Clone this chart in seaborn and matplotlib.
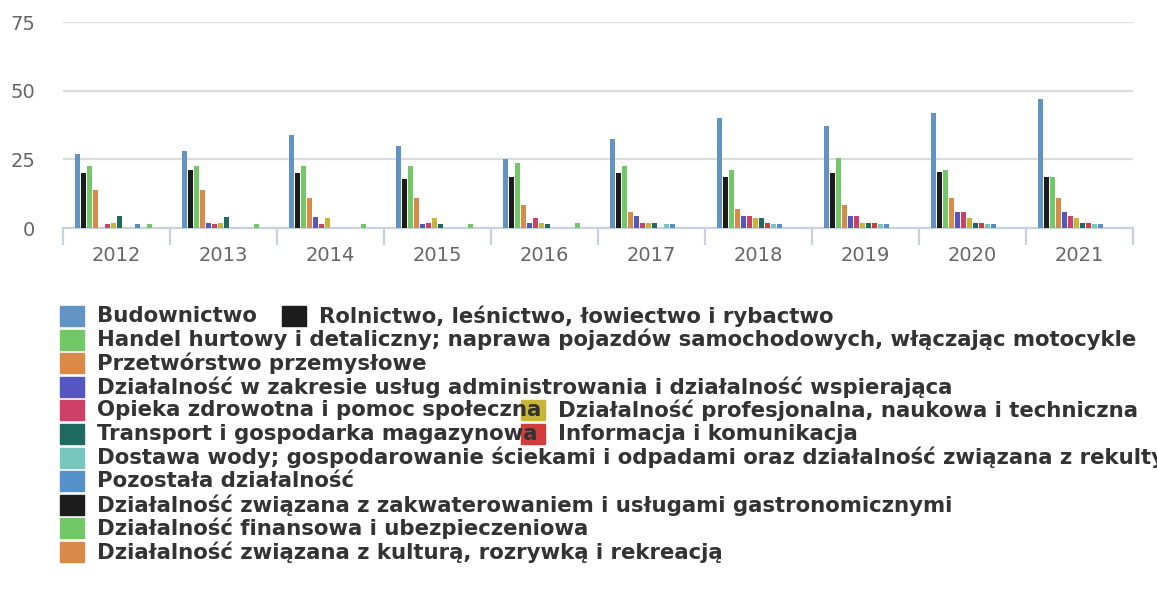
import numpy as np
import pandas as pd
import matplotlib
matplotlib.use("Agg")
import matplotlib.pyplot as plt
from matplotlib.patches import Rectangle
import seaborn as sns

# Data
years = ["2012", "2013", "2014", "2015", "2016", "2017", "2018", "2019", "2020", "2021"]

sectors = [
    "Budownictwo",
    "Rolnictwo, leśnictwo, łowiectwo i rybactwo",
    "Handel hurtowy i detaliczny; naprawa pojazdów samochodowych, włączając motocykle",
    "Przetwórstwo przemysłowe",
    "Działalność w zakresie usług administrowania i działalność wspierająca",
    "Opieka zdrowotna i pomoc społeczna",
    "Działalność profesjonalna, naukowa i techniczna",
    "Transport i gospodarka magazynowa",
    "Informacja i komunikacja",
    "Dostawa wody; gospodarowanie ściekami i odpadami oraz działalność związana z rekultywacją",
    "Pozostała działalność",
    "Działalność związana z zakwaterowaniem i usługami gastronomicznymi",
    "Działalność finansowa i ubezpieczeniowa",
    "Działalność związana z kulturą, rozrywką i rekreacją",
]

budownictwo = [27, 28, 34, 30, 25, 32.5, 40, 37, 42, 47]
rolnictwo = [20, 21, 20, 18, 18.5, 20, 18.5, 20, 20.5, 18.5]
handel = [22.5, 22.5, 22.5, 22.5, 23.5, 22.5, 21, 25.5, 21, 18.5]
przetworstwo = [14, 14, 11, 11, 8.5, 6, 7, 8.5, 11, 11]
administrowanie = [0, 2, 4, 1.5, 2, 4.5, 4.5, 4.5, 6, 6]
opieka = [1.5, 1.5, 1.5, 2, 3.5, 2, 4.5, 4.5, 6, 4.5]
profesjonalna = [2, 2, 3.5, 3.5, 2, 2, 3.5, 2, 3.5, 3.5]
transport = [4.5, 4, 0, 1.5, 1.5, 2, 3.5, 2, 2, 2]
informacja = [0, 0, 0, 0, 0, 0, 2, 2, 2, 2]
dostawa_wody = [0, 0, 0, 0, 0, 1.5, 1.5, 1.5, 1.5, 1.5]
pozostala = [1.5, 0, 0, 0, 0, 1.5, 1.5, 1.5, 1.5, 1.5]
zakwaterowanie = [0, 0, 0, 0, 0, 0, 0, 0, 0, 0]
finansowa = [1.5, 1.5, 1.5, 1.5, 2, 0, 0, 0, 0, 0]
kultura = [0, 0, 0, 0, 0, 0, 0, 0, 0, 0]

series = [budownictwo, rolnictwo, handel, przetworstwo, administrowanie, opieka,
          profesjonalna, transport, informacja, dostawa_wody, pozostala,
          zakwaterowanie, finansowa, kultura]

colors = ["#6194c4", "#1c1c1c", "#72c866", "#d98a48", "#5656c0", "#cf4068",
          "#c8b436", "#1f6a60", "#d23c3c", "#78c6c0", "#5590c8", "#1c1c1c",
          "#72c866", "#d98a48"]

# long format table for seaborn
df = pd.DataFrame({
    "rok": np.tile(years, len(sectors)),
    "sektor": np.repeat(sectors, len(years)),
    "wartosc": np.concatenate(series),
})

fig = plt.figure(figsize=(11.57, 5.97), dpi=100)
ax = fig.add_axes([63 / 1157, 1 - 228 / 597, (1133 - 63) / 1157, (228 - 22) / 597])

sns.barplot(data=df, x="rok", y="wartosc", hue="sektor", hue_order=sectors,
            palette=colors, width=0.78, gap=0.1, legend=False, ax=ax,
            saturation=1, zorder=3)

ax.set_ylim(0, 75)
ax.set_xlim(-0.5, 9.5)
ax.set_yticks([0, 25, 50, 75])
ax.set_xlabel("")
ax.set_ylabel("")
ax.grid(axis="y", color="#dcdcdc", linewidth=1.6, zorder=0)
ax.set_axisbelow(True)
for s in ["top", "right", "left"]:
    ax.spines[s].set_visible(False)
ax.spines["bottom"].set_color("#c8d2dc")
ax.spines["bottom"].set_linewidth(1.6)

ax.tick_params(axis="y", length=0, pad=20, labelsize=14, labelcolor="#666666")
ax.tick_params(axis="x", which="major", length=0, pad=13, labelsize=14, labelcolor="#666666")
ax.set_xticks(np.arange(-0.5, 10, 1), minor=True)
ax.tick_params(axis="x", which="minor", length=12, width=1.6, color="#c8d2dc")

# legend rows, drawn by hand to follow the reference's flow layout
W, H = 1157, 597
rows = [[0, 1], [2], [3], [4], [5, 6], [7, 8], [9], [10], [11], [12], [13]]
second_x = {0: 282, 4: 521, 5: 521}
row_y0, row_step = 316, 23.6
pw, ph = 24, 20

for r, items in enumerate(rows):
    yc = row_y0 + r * row_step
    for k, idx in enumerate(items):
        x0 = 60 if k == 0 else second_x[r]
        if k == 1:
            # cover the tail of the first label like the reference does
            fig.patches.append(Rectangle(((x0 - 1) / W, 1 - (yc + 11) / H), 700 / W, 22 / H,
                                         transform=fig.transFigure, color="white", zorder=4))
        fig.patches.append(Rectangle((x0 / W, 1 - (yc + ph / 2) / H), pw / W, ph / H,
                                     transform=fig.transFigure, color=colors[idx], zorder=5))
        fig.text((x0 + pw + 13) / W, 1 - yc / H, sectors[idx], fontsize=15.3,
                 fontweight="bold", color="#333333", va="center", ha="left", zorder=6)

fig.savefig("out.png", dpi=100)
